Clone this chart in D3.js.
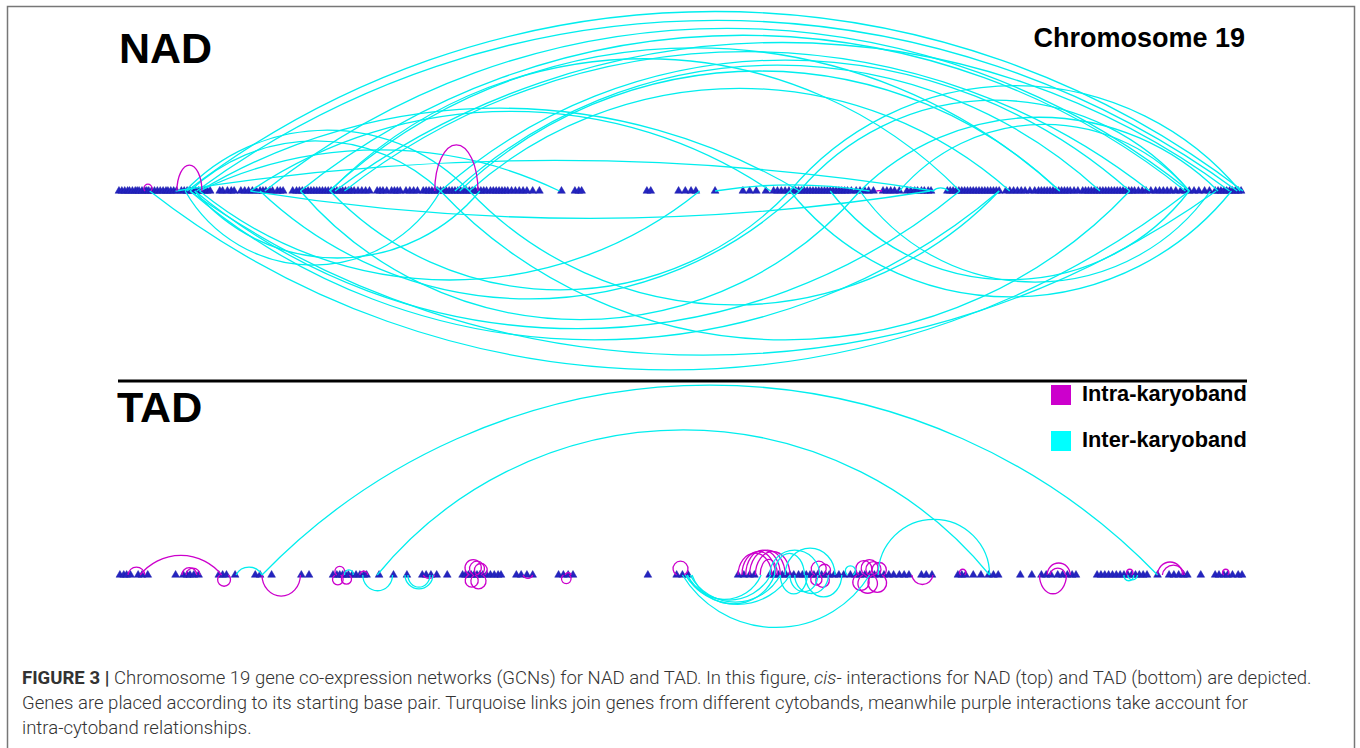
<!DOCTYPE html>
<html lang="en">
<head>
    <meta charset="UTF-8">
    <title>Chromosome 19 GCNs for NAD and TAD</title>
    <script src="https://d3js.org/d3.v7.min.js"></script>
    <style>
        body { margin: 0; background: #fff; }
        svg { display: block; }
        .title { font-family: "Liberation Sans", Arial, sans-serif; font-weight: bold; fill: #000; }
        .caption { font-family: Roboto, "Liberation Sans", sans-serif; font-weight: 300; fill: #333; }
    </style>
</head>
<body>
    <svg id="chart" width="1360" height="748"></svg>

    <script>
        // chromosome length (Mb)
        const chromLength = 58.6;

        // gene start positions (Mb), NAD network
        const nadGenes = [
            0.05, 0.2, 0.35, 0.5, 0.6, 0.75, 0.9, 1.0, 1.1, 1.25, 1.4, 1.5,
            1.6, 1.75, 1.9, 2.05, 2.2, 2.35, 2.5, 2.6, 2.75, 2.9, 3.05,
            3.3, 3.45, 3.6, 3.75, 3.9, 4.05, 4.2, 4.35, 4.5, 4.65, 4.8,
            5.3, 5.45, 5.7, 5.9, 6.05,
            6.4, 6.6, 6.8, 7.0, 7.2,
            7.4, 7.55, 7.7, 7.9, 8.05, 8.3, 8.45, 8.6,
            9.1, 9.3, 9.45, 9.6, 9.75, 9.9, 10.05, 10.2, 10.35, 10.5, 10.65, 10.8, 10.95, 11.1, 11.25,
            11.4, 11.55, 11.7, 11.85, 12.0, 12.15, 12.3, 12.5, 12.7, 12.9, 13.1,
            13.5, 13.65, 13.8, 14.0, 14.25, 14.4, 14.55, 14.7, 15.0, 15.2, 15.4, 15.6,
            15.9, 16.05, 16.2, 16.35, 16.5, 16.65, 16.8, 16.95, 17.1, 17.25, 17.4, 17.55, 17.7, 17.85,
            18.0, 18.15, 18.3, 18.45, 18.6, 18.75, 18.9, 19.05, 19.2, 19.4,
            19.55, 19.7, 19.85, 20.0, 20.15, 20.3, 20.5, 20.7, 20.9, 21.1, 21.3,
            21.6, 21.95, 23.1, 23.8, 24.0, 24.15,
            27.55, 27.75, 29.2, 29.55, 29.85, 30.1, 31.1,
            32.55, 32.9, 33.25, 33.75,
            34.15, 34.35, 34.55, 34.75, 34.95, 35.15, 35.3,
            35.45, 35.6, 35.75, 35.9, 36.05, 36.2, 36.35, 36.5, 36.65, 36.8, 36.95, 37.1, 37.25, 37.4,
            37.55, 37.7, 37.85, 38.0,
            38.2, 38.45, 38.65, 38.9, 39.1, 39.35,
            39.85, 40.05, 40.25, 40.45, 40.7,
            41.1, 41.3, 41.5, 41.65, 41.85, 42.0, 42.2, 42.35,
            43.2, 43.35, 43.5, 43.65, 43.8, 43.95, 44.1, 44.25, 44.4, 44.55, 44.7, 44.85, 45.0,
            45.15, 45.3, 45.45, 45.6, 45.75, 45.9,
            46.25, 46.45, 46.65, 46.85, 47.05, 47.25, 47.5, 47.75,
            47.95, 48.1, 48.25, 48.4, 48.55, 48.7, 48.85, 49.0, 49.15, 49.3, 49.45, 49.6, 49.8, 50.0,
            50.25, 50.4, 50.55, 50.7, 50.85, 51.0, 51.15, 51.3, 51.45, 51.6, 51.75, 51.9, 52.05,
            52.2, 52.35, 52.5, 52.65, 52.8, 52.95, 53.15, 53.35, 53.55,
            53.8, 54.05, 54.25, 54.45, 54.65, 54.85, 55.1, 55.35, 55.6, 55.8,
            56.05, 56.3, 56.6, 56.85,
            57.15, 57.3, 57.45, 57.6, 57.75, 57.9, 58.05, 58.2, 58.35, 58.5
        ];

        // gene start positions (Mb), TAD network
        const tadGenes = [
            0.1, 0.3, 0.45, 0.65, 1.05, 1.25, 1.55, 3.0,
            3.4, 3.6, 3.75, 3.95, 4.2, 5.25, 5.45, 5.65, 6.1,
            7.15, 7.4, 8.0, 9.55, 9.95,
            11.2, 11.4, 11.55, 11.7, 11.85, 12.0, 12.2, 12.4, 12.6, 12.8, 12.95,
            13.6, 14.35, 15.05, 15.85, 16.05, 16.3, 16.6, 17.15,
            17.95, 18.1, 18.25, 18.4, 18.55, 18.7, 18.85, 19.0, 19.2, 19.4, 19.6, 19.8, 19.95,
            20.75, 21.0, 21.3, 21.6, 22.95, 23.2, 23.45, 23.7,
            27.6, 29.1, 29.4, 29.7, 32.3, 32.6, 32.9, 33.15,
            33.95, 34.15, 34.4, 34.6, 34.8, 35.0, 35.2, 35.45,
            35.65, 35.85, 36.05, 36.25, 36.45, 36.65, 36.85, 37.05, 37.3, 37.55, 37.8,
            38.15, 38.4, 38.65, 38.9, 39.15, 39.4, 39.65, 39.9, 40.15, 40.4,
            40.7, 40.95, 41.2, 41.85, 42.1, 42.4,
            43.75, 43.95, 44.15, 44.55, 44.95, 45.35, 45.6, 45.85,
            47.0, 47.6, 48.1, 48.35, 48.6, 48.95, 49.2, 49.45, 49.7, 49.9,
            51.0, 51.2, 51.4, 51.6, 51.8, 52.0, 52.2, 52.4, 52.6, 52.8, 53.0, 53.2, 53.4, 53.6,
            54.15, 54.75, 55.0, 55.25, 55.5, 55.7, 56.4,
            57.15, 57.35, 57.6, 57.8, 58.05, 58.35, 58.55
        ];

        // links: [from Mb, to Mb, bend (arc height / span, + above, - below), kind]
        const nadLinks = [
            [3.6, 58.6, 0.17, "inter"], [4.1, 58.3, 0.164, "inter"], [7.65, 55.8, 0.176, "inter"],
            [9.5, 55.6, 0.176, "inter"], [11.3, 57.9, 0.166, "inter"], [11.8, 53.75, 0.173, "inter"],
            [16.8, 52.7, 0.19, "inter"], [17.55, 51.15, 0.195, "inter"], [18.3, 46.45, 0.19, "inter"],
            [17.8, 49.05, 0.2, "inter"], [11.05, 43.85, 0.21, "inter"], [35.0, 58.45, 0.234, "inter"],
            [35.5, 55.8, 0.233, "inter"], [38.65, 57.3, 0.206, "inter"], [40.7, 55.8, 0.23, "inter"],
            [3.5, 18.3, 0.214, "inter"], [3.75, 16.8, 0.2, "inter"], [4.25, 23.0, 0.114, "inter"],
            [4.25, 35.5, 0.138, "inter"], [3.0, 42.5, 0.04, "inter"], [31.1, 39.15, 0.04, "inter"],
            [42.45, 43.25, 0.2, "inter"], [6.9, 34.0, 0.153, "inter"], [11.0, 49.05, 0.196, "inter"],
            [3.07, 4.37, 1.04, "intra"], [16.5, 18.75, 1.07, "intra"], [1.4, 1.72, 1.1, "intra"],
            [39.5, 39.8, 0.05, "intra"],
            [1.65, 55.8, -0.172, "inter"], [3.75, 57.2, -0.16, "inter"], [3.75, 45.9, -0.184, "inter"],
            [4.0, 43.85, -0.18, "inter"], [3.5, 16.8, -0.29, "inter"], [4.0, 18.85, -0.235, "inter"],
            [7.4, 35.5, -0.2, "inter"], [9.5, 38.65, -0.23, "inter"], [11.05, 35.0, -0.215, "inter"],
            [35.0, 58.0, -0.24, "inter"], [38.65, 56.9, -0.26, "inter"], [37.1, 55.8, -0.247, "inter"],
            [6.9, 42.3, -0.04, "inter"], [18.3, 45.9, -0.215, "inter"], [16.8, 52.7, -0.216, "inter"],
            [4.25, 30.3, -0.178, "inter"]
        ];

        const tadLinks = [
            [0.52, 1.4, 0.47, "intra"], [1.15, 5.4, 0.24, "intra"], [3.33, 4.1, 0.5, "intra"],
            [3.55, 4.27, 0.5, "intra"], [5.3, 5.75, -1.3, "intra"], [7.5, 9.5, -0.55, "intra"],
            [11.3, 11.6, -1.7, "intra"], [11.4, 11.7, 1.5, "intra"], [11.75, 12.05, -1.6, "intra"],
            [12.6, 13.0, 0.5, "intra"], [15.9, 16.5, -0.3, "intra"],
            [18.3, 18.7, 2.0, "intra"], [18.5, 18.9, 1.8, "intra"], [18.55, 19.0, -1.6, "intra"],
            [18.7, 19.1, 1.5, "intra"], [18.25, 18.6, -1.8, "intra"],
            [21.1, 21.6, -0.35, "intra"], [23.2, 23.5, -1.5, "intra"], [23.3, 23.6, 0.4, "intra"],
            [29.1, 29.5, 1.8, "intra"],
            [32.3, 34.05, 0.65, "intra"], [32.5, 34.25, 0.7, "intra"], [32.7, 34.5, 0.72, "intra"],
            [32.9, 34.75, 0.7, "intra"], [33.2, 35.0, 0.68, "intra"], [33.45, 34.35, 0.9, "intra"],
            [36.3, 36.7, 1.8, "intra"], [36.5, 36.9, -1.6, "intra"], [36.6, 37.0, 1.4, "intra"],
            [36.2, 36.55, -1.5, "intra"],
            [38.6, 39.1, 1.5, "intra"], [38.8, 39.3, -1.9, "intra"], [39.1, 39.6, 1.4, "intra"],
            [38.5, 38.9, -2.0, "intra"], [39.3, 39.8, -1.8, "intra"], [38.9, 39.4, 1.6, "intra"],
            [39.4, 39.9, 1.3, "intra"],
            [41.35, 42.45, -0.45, "intra"], [43.9, 44.1, 1.5, "intra"],
            [48.0, 49.4, -0.7, "intra"], [48.4, 49.6, 0.52, "intra"], [48.55, 49.35, 0.45, "intra"],
            [52.6, 52.8, 1.5, "intra"], [54.15, 55.45, 0.52, "intra"], [54.4, 55.55, 0.45, "intra"],
            [57.6, 57.8, 1.5, "intra"],
            [6.15, 7.5, 0.3, "inter"], [7.5, 54.15, 0.212, "inter"], [13.5, 45.4, 0.237, "inter"],
            [12.75, 14.3, -0.53, "inter"], [15.1, 16.25, -0.55, "inter"], [14.95, 16.4, -0.5, "inter"],
            [11.8, 12.25, 0.6, "inter"],
            [29.65, 34.0, -0.3, "inter"], [29.65, 33.5, -0.33, "inter"], [29.8, 34.5, -0.3, "inter"],
            [29.55, 35.0, -0.28, "inter"], [29.9, 34.2, -0.35, "inter"], [29.4, 39.15, -0.28, "inter"],
            [34.2, 35.75, 0.73, "inter"], [34.75, 37.35, 0.54, "inter"], [33.95, 36.55, 0.5, "inter"],
            [34.5, 35.9, -0.7, "inter"], [35.0, 36.45, -0.6, "inter"], [35.25, 37.0, -0.55, "inter"],
            [35.8, 37.7, -0.6, "inter"], [38.0, 38.3, 1.6, "inter"], [39.6, 45.4, 0.5, "inter"],
            [52.4, 52.9, -0.6, "inter"], [52.6, 53.1, -0.5, "inter"]
        ];

        const kindColor = { intra: "#cc00cc", inter: "#00eeee" };
        const legendItems = [
            { label: "Intra-karyoband", color: "#cc00cc" },
            { label: "Inter-karyoband", color: "#00ffff" }
        ];

        const svg = d3.select("#chart");

        // frame
        svg.append("path")
            .attr("d", "M7.5,760 V6.5 H1354.5 V760")
            .attr("fill", "none")
            .attr("stroke", "#777")
            .attr("stroke-width", 1.5);

        const x = d3.scaleLinear().domain([0, chromLength]).range([118, 1243]);

        // short links between near genes become loops (circle arcs),
        // tall links get a half ellipse, the rest are flat circle arcs
        function arcPath(l, y0) {
            const x1 = x(Math.min(l[0], l[1]));
            const x2 = x(Math.max(l[0], l[1]));
            const s = x2 - x1;
            const h = Math.abs(l[2]) * s;
            const sweep = l[2] > 0 ? 1 : 0;
            if (h > s / 2 && s >= 16) {
                return `M${x1},${y0} A${s / 2},${h} 0 0 ${sweep} ${x2},${y0}`;
            }
            const r = (s * s / 4 + h * h) / (2 * h);
            const large = h > s / 2 ? 1 : 0;
            return `M${x1},${y0} A${r},${r} 0 ${large} ${sweep} ${x2},${y0}`;
        }

        const tri = d3.symbol().type(d3.symbolTriangle).size(26);

        function drawNetwork(genes, links, y0) {
            const g = svg.append("g");
            g.selectAll("path.gene")
                .data(genes)
                .enter()
                .append("path")
                .attr("class", "gene")
                .attr("d", tri)
                .attr("transform", d => `translate(${x(d)},${y0})`)
                .attr("fill", "#2424c0")
                .attr("stroke", "#1a1aa8")
                .attr("stroke-width", 0.5);

            g.selectAll("path.link")
                .data(links)
                .enter()
                .append("path")
                .attr("class", "link")
                .attr("d", d => arcPath(d, y0))
                .attr("fill", "none")
                .attr("stroke", d => kindColor[d[3]])
                .attr("stroke-width", 1.3);
        }

        drawNetwork(nadGenes, nadLinks, 191);
        drawNetwork(tadGenes, tadLinks, 575);

        // titles
        svg.append("text").attr("class", "title").attr("x", 119).attr("y", 63)
            .style("font-size", "43px").text("NAD");
        svg.append("text").attr("class", "title").attr("x", 117).attr("y", 422)
            .style("font-size", "43px").text("TAD");
        svg.append("text").attr("class", "title").attr("x", 1245).attr("y", 47)
            .attr("text-anchor", "end").style("font-size", "27px").text("Chromosome 19");

        // divider
        svg.append("line")
            .attr("x1", 118).attr("x2", 1247).attr("y1", 381).attr("y2", 381)
            .attr("stroke", "#000").attr("stroke-width", 3);

        // legend
        const legend = svg.append("g").selectAll("g")
            .data(legendItems)
            .enter()
            .append("g")
            .attr("transform", (d, i) => `translate(1051,${385 + i * 46})`);
        legend.append("rect").attr("width", 20).attr("height", 20)
            .attr("fill", d => d.color);
        legend.append("text").attr("class", "title").attr("x", 31).attr("y", 16)
            .style("font-size", "21.8px").text(d => d.label);

        // caption
        const cap = svg.append("g").attr("class", "caption");
        const line1 = cap.append("text").attr("x", 22).attr("y", 684);
        line1.append("tspan").style("font-weight", "bold").text("FIGURE 3 | ");
        line1.append("tspan").text("Chromosome 19 gene co-expression networks (GCNs) for NAD and TAD. In this figure, ");
        line1.append("tspan").style("font-style", "italic").text("cis");
        line1.append("tspan").text("- interactions for NAD (top) and TAD (bottom) are depicted.");
        cap.append("text").attr("x", 22).attr("y", 709)
            .text("Genes are placed according to its starting base pair. Turquoise links join genes from different cytobands, meanwhile purple interactions take account for");
        cap.append("text").attr("x", 22).attr("y", 734)
            .text("intra-cytoband relationships.");

        cap.selectAll("text").style("font-size", "17px");
        const w = line1.node().getComputedTextLength();
        cap.selectAll("text").style("font-size", (17 * 1291 / w) + "px");
    </script>
</body>
</html>
